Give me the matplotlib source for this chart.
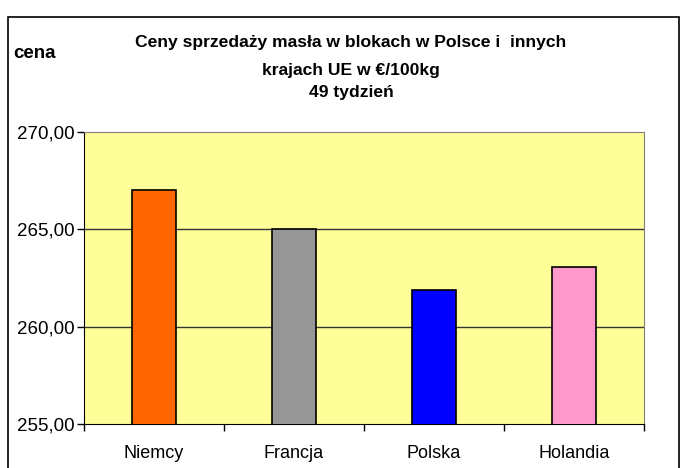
import matplotlib.pyplot as plt
from matplotlib.patches import Rectangle
from matplotlib.ticker import FixedLocator, NullFormatter

plt.rcParams['font.family'] = ['Liberation Sans', 'DejaVu Sans']

# values (EUR/100kg, week 49)
countries = ['Niemcy', 'Francja', 'Polska', 'Holandia']
prices = [267.0, 265.02, 261.88, 263.04]
colors = ['#FF6600', '#969696', '#0000FF', '#FF99CC']
yticks = [255, 260, 265, 270]

W, H = 680, 468
fig = plt.figure(figsize=(W / 100, H / 100), dpi=100)

# plot area in pixels: x 84..644, y 132..424
ax = fig.add_axes([84 / W, 1 - 424 / H, 560 / W, 292 / H])
ax.set_facecolor('#FFFF99')

x = range(len(countries))
ax.bar(x, prices, width=0.32, color=colors, edgecolor='black', linewidth=1.2,
       zorder=3)

ax.set_ylim(255, 270)
ax.set_xlim(-0.5, len(countries) - 0.5)
ax.set_yticks(yticks)
ax.set_yticklabels([('%.2f' % v).replace('.', ',') for v in yticks], fontsize=13.5)
for v in yticks[1:-1]:
    ax.axhline(v, color='#333333', linewidth=1.0, zorder=1)

# category labels between the boundary ticks
ax.xaxis.set_major_locator(FixedLocator([i - 0.5 for i in range(len(countries) + 1)]))
ax.xaxis.set_major_formatter(NullFormatter())
ax.xaxis.set_minor_locator(FixedLocator(list(x)))
ax.set_xticklabels(countries, minor=True, fontsize=13)
ax.tick_params(axis='x', which='minor', length=0, pad=15)
ax.tick_params(axis='x', which='major', length=5, width=1, color='black')
ax.tick_params(axis='y', length=5, width=1, color='black', pad=2)

for side in ['top', 'right']:
    ax.spines[side].set_color('#808080')
for side in ['left', 'bottom']:
    ax.spines[side].set_color('black')

tx = 351 / W
fig.text(tx, 1 - 43 / H, 'Ceny sprzedaży masła w blokach w Polsce i  innych',
         ha='center', va='center', fontsize=12.6, fontweight='bold')
fig.text(tx, 1 - 70 / H, 'krajach UE w €/100kg',
         ha='center', va='center', fontsize=12.6, fontweight='bold')
fig.text(tx, 1 - 93 / H, '49 tydzień',
         ha='center', va='center', fontsize=12.6, fontweight='bold')
fig.text(13 / W, 1 - 53 / H, 'cena', ha='left', va='center',
         fontsize=13.5, fontweight='bold')

# outer chart border (bottom edge runs off the image)
fig.patches.append(Rectangle((8 / W, -0.05), 671 / W, 1.05 - 17 / H,
                             transform=fig.transFigure, fill=False,
                             edgecolor='black', linewidth=1.2))

fig.savefig('out.png', dpi=100)
